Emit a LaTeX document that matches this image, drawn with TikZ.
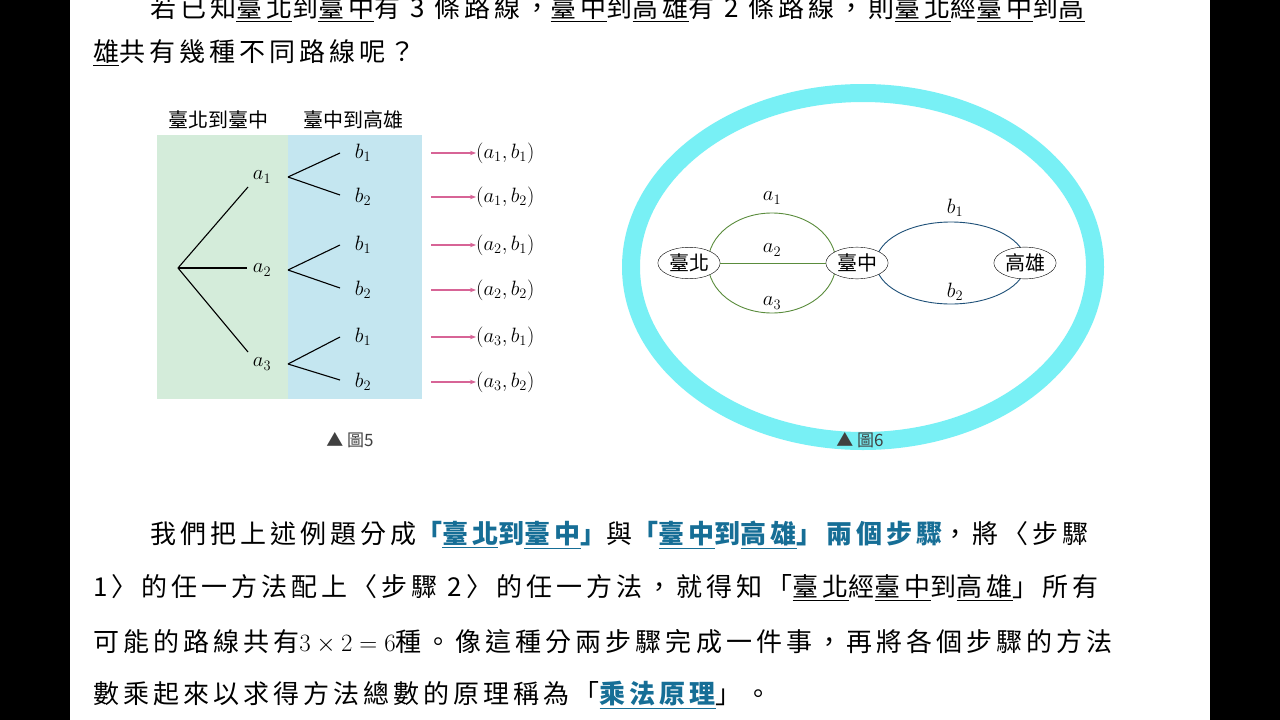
\documentclass[tikz,border=0pt]{standalone}
\usepackage{fontspec}
\newfontfamily\cjk{Noto Sans CJK TC}
\newfontfamily\cjkbody[LetterSpace=15.5]{Noto Sans CJK TC}
\usetikzlibrary{arrows.meta,shapes.geometric}
\definecolor{hl}{RGB}{22,110,150}
\definecolor{pinkarr}{RGB}{215,100,150}
\definecolor{gbg}{RGB}{212,236,218}
\definecolor{bbg}{RGB}{196,230,240}
\definecolor{ring}{RGB}{120,240,245}
\definecolor{gline}{RGB}{90,140,60}
\definecolor{bline}{RGB}{30,80,120}
\newcommand{\hlt}[1]{{\color{hl}\bfseries #1}}
\begin{document}
\begin{tikzpicture}[x=1pt,y=-1pt,
  body/.style={anchor=west,inner sep=0pt,font=\cjkbody\fontsize{26}{26}\selectfont},
  lab/.style={inner sep=0pt,font=\fontsize{20}{20}\selectfont},
  city/.style={draw,ellipse,fill=white,inner sep=2pt,font=\cjk\fontsize{20}{20}\selectfont},
  parr/.style={draw=pinkarr,line width=1.3pt,-{Stealth[length=6pt]}},
  tl/.style={line width=1.1pt}]
\useasboundingbox (0,0) rectangle (1280,720);
\fill[black] (0,0) rectangle (70,720);
\fill[black] (1210,0) rectangle (1280,720);
\fill[white] (70,0) rectangle (1210,720);
% top text
\node[body] (t1) at (150,9) {若已知\underline{臺北}到\underline{臺中}有 3 條路線，\underline{臺中}到\underline{高雄}有 2 條路線，則\underline{臺北}經\underline{臺中}到\underline{高}};
\node[body] (t2) at (93,53) {\underline{雄}共有幾種不同路線呢？};
% tree figure
\fill[gbg] (157,135) rectangle (288,399);
\fill[bbg] (288,135) rectangle (422,399);
\node[lab,font=\cjk\fontsize{20}{20}\selectfont] (h1) at (218,120) {臺北到臺中};
\node[lab,font=\cjk\fontsize{20}{20}\selectfont] (h2) at (353,120) {臺中到高雄};
\coordinate (r) at (178,268);
\node[lab] (a1) at (262,177) {$a_1$};
\node[lab] (a2) at (262,270) {$a_2$};
\node[lab] (a3) at (262,364) {$a_3$};
\draw[tl] (r) -- (248,187);
\draw[tl] (r) -- (247,268);
\draw[tl] (r) -- (248,352);
\foreach \i/\y/\u/\v in {1/177/153/197,2/270/245/290,3/364/337/382}{
  \node[lab] (b1\i) at (363,\u) {$b_1$};
  \node[lab] (b2\i) at (363,\v) {$b_2$};
  \coordinate (s\i) at (288,\y);
  \draw[tl] (s\i) -- (340,\u);
  \draw[tl] (s\i) -- (340,\v-2);
  \node[lab,anchor=west] (p1\i) at (476,\u) {$(a_{\i},b_1)$};
  \node[lab,anchor=west] (p2\i) at (476,\v) {$(a_{\i},b_2)$};
  \coordinate (q1\i) at (431,\u); \coordinate (q2\i) at (431,\v);
  \draw[parr] (q1\i) -- (p1\i.west);
  \draw[parr] (q2\i) -- (p2\i.west);
}
\node[lab,font=\cjk\fontsize{17}{17}\selectfont,text=black!75] (f5) at (350,440) {▲ 圖5};
% ring figure
\draw[ring,line width=18pt] (863,267) ellipse [x radius=232,y radius=174];
\draw[gline,line width=0.9pt] (772,263) ellipse [x radius=64,y radius=50];
\draw[bline,line width=0.9pt] (951,263) ellipse [x radius=75,y radius=41];
\node[city] (tp) at (689,263) {臺北};
\node[city] (tc) at (857,263) {臺中};
\node[city] (kh) at (1025,263) {高雄};
\draw[gline,line width=0.9pt] (tp) -- (tc);
\node[lab] (la1) at (772,198) {$a_1$};
\node[lab] (la2) at (772,250) {$a_2$};
\node[lab] (la3) at (772,303) {$a_3$};
\node[lab] (lb1) at (955,208) {$b_1$};
\node[lab] (lb2) at (955,292) {$b_2$};
\node[lab,font=\cjk\fontsize{17}{17}\selectfont,text=black!75] (f6) at (860,440) {▲ 圖6};
% bottom text
\node[body] (l1) at (150,535) {我們把上述例題分成\hlt{「\underline{臺北}到\underline{臺中}」}與\hlt{「\underline{臺中}到\underline{高雄}」兩個步驟}，將〈步驟};
\node[body] (l2) at (93,588) {1〉的任一方法配上〈步驟 2〉的任一方法，就得知「\underline{臺北}經\underline{臺中}到\underline{高雄}」所有};
\node[body] (l3) at (93,642) {可能的路線共有$3\times2=6$種。像這種分兩步驟完成一件事，再將各個步驟的方法};
\node[body] (l4) at (93,695) {數乘起來以求得方法總數的原理稱為「\hlt{\underline{乘法原理}}」。};
\end{tikzpicture}
\end{document}
